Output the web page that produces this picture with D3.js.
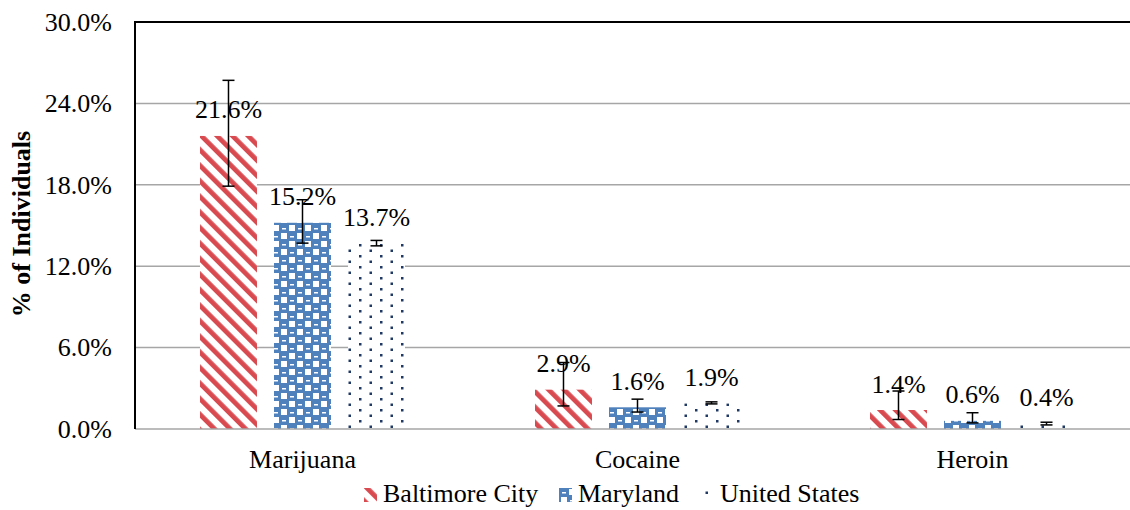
<!DOCTYPE html>
<html><head><meta charset="utf-8">
<script src="https://cdn.jsdelivr.net/npm/d3@7"></script>
<style>
html,body{margin:0;padding:0;background:#fff;}
svg{display:block;font-family:"Liberation Serif","Times New Roman",serif;}
</style></head>
<body>
<svg id="chart" width="1130" height="510"></svg>
<script>
const categories = ["Marijuana", "Cocaine", "Heroin"];
const seriesNames = ["Baltimore City", "Maryland", "United States"];
const baltimore = [21.6, 2.9, 1.4];
const maryland = [15.2, 1.6, 0.6];
const unitedStates = [13.7, 1.9, 0.4];
const baltimoreLow = [17.9, 1.7, 0.7];
const baltimoreHigh = [25.7, 4.9, 2.8];
const marylandLow = [13.7, 1.25, 0.45];
const marylandHigh = [16.9, 2.2, 1.2];
const unitedStatesLow = [13.5, 1.85, 0.3];
const unitedStatesHigh = [13.9, 2.0, 0.5];
const yTicks = [0, 6, 12, 18, 24, 30];

const seriesValues = [baltimore, maryland, unitedStates];
const seriesLow = [baltimoreLow, marylandLow, unitedStatesLow];
const seriesHigh = [baltimoreHigh, marylandHigh, unitedStatesHigh];
const patternIds = ["pBalt", "pMd", "pUs"];

const svg = d3.select("#chart");
const mLeft = 135, mTop = 22, mBottom = 429, mRight = 1140;

const y = d3.scaleLinear().domain([0, 30]).range([mBottom, mTop]);
const x = d3.scaleBand().domain(categories).range([mLeft, mRight]).padding(0);
const xs = d3.scaleBand().domain(seriesNames).range([-102.5, 102.5]).paddingInner(0.23).paddingOuter(0);

// patterns
const defs = svg.append("defs");
const p1 = defs.append("pattern").attr("id", "pBalt").attr("patternUnits", "userSpaceOnUse")
  .attr("width", 11).attr("height", 11).attr("patternTransform", "rotate(-45)");
p1.append("rect").attr("width", 11).attr("height", 11).attr("fill", "#fff");
p1.append("rect").attr("x", 0).attr("width", 4.8).attr("height", 11).attr("fill", "#D84A50");

const p2 = defs.append("pattern").attr("id", "pMd").attr("patternUnits", "userSpaceOnUse")
  .attr("width", 16).attr("height", 16);
p2.append("rect").attr("width", 16).attr("height", 16).attr("fill", "#4F81BD");
p2.append("rect").attr("x", 1).attr("y", 1).attr("width", 6).attr("height", 6).attr("fill", "#fff");
p2.append("rect").attr("x", 9).attr("y", 9).attr("width", 6).attr("height", 6).attr("fill", "#fff");
p2.append("rect").attr("x", 10).attr("y", 4).attr("width", 4).attr("height", 1.5).attr("fill", "#fff");
p2.append("rect").attr("x", 2).attr("y", 12).attr("width", 4).attr("height", 1.5).attr("fill", "#fff");

const p3 = defs.append("pattern").attr("id", "pUs").attr("patternUnits", "userSpaceOnUse")
  .attr("width", 21).attr("height", 11);
p3.append("rect").attr("width", 21).attr("height", 11).attr("fill", "#fff");
p3.append("rect").attr("x", 2).attr("y", 2).attr("width", 2.5).attr("height", 2.5).attr("fill", "#1F3864");
p3.append("rect").attr("x", 12.5).attr("y", 7.5).attr("width", 2.5).attr("height", 2.5).attr("fill", "#1F3864");

// gridlines
svg.append("g").selectAll("line").data(yTicks.filter(d => d > 0 && d < 30)).join("line")
  .attr("x1", mLeft).attr("x2", mRight).attr("y1", d => y(d)).attr("y2", d => y(d))
  .attr("stroke", "#a6a6a6").attr("stroke-width", 1.5);

// bars
seriesNames.forEach((s, si) => {
  const g = svg.append("g");
  g.selectAll("rect").data(categories).join("rect")
    .attr("x", c => x(c) + x.bandwidth() / 2 + xs(s))
    .attr("y", (c, i) => y(seriesValues[si][i]))
    .attr("width", xs.bandwidth())
    .attr("height", (c, i) => y(0) - y(seriesValues[si][i]))
    .attr("fill", `url(#${patternIds[si]})`);
});

// axis baseline
svg.append("line").attr("x1", mLeft).attr("x2", mRight).attr("y1", y(0)).attr("y2", y(0))
  .attr("stroke", "#a6a6a6").attr("stroke-width", 1.5);

// frame top and left
svg.append("line").attr("x1", mLeft).attr("x2", mRight).attr("y1", y(30)).attr("y2", y(30))
  .attr("stroke", "#000").attr("stroke-width", 2);
svg.append("line").attr("x1", mLeft).attr("x2", mLeft).attr("y1", y(30) - 1).attr("y2", y(0))
  .attr("stroke", "#000").attr("stroke-width", 2);

// error bars
seriesNames.forEach((s, si) => {
  const g = svg.append("g").attr("stroke", "#000").attr("stroke-width", 1.5);
  categories.forEach((c, i) => {
    const cx = x(c) + x.bandwidth() / 2 + xs(s) + xs.bandwidth() / 2;
    const lo = y(seriesLow[si][i]), hi = y(seriesHigh[si][i]);
    g.append("line").attr("x1", cx).attr("x2", cx).attr("y1", lo).attr("y2", hi);
    g.append("line").attr("x1", cx - 6).attr("x2", cx + 6).attr("y1", lo).attr("y2", lo);
    g.append("line").attr("x1", cx - 6).attr("x2", cx + 6).attr("y1", hi).attr("y2", hi);
  });
});

// value labels
seriesNames.forEach((s, si) => {
  svg.append("g").selectAll("text").data(categories).join("text")
    .attr("x", c => x(c) + x.bandwidth() / 2 + xs(s) + xs.bandwidth() / 2)
    .attr("y", (c, i) => y(seriesValues[si][i]) - 17.5)
    .attr("text-anchor", "middle").attr("font-size", 26).attr("fill", "#000")
    .text((c, i) => seriesValues[si][i].toFixed(1) + "%");
});

// y tick labels
svg.append("g").selectAll("text").data(yTicks).join("text")
  .attr("x", 112).attr("y", d => y(d)).attr("dy", "0.34em")
  .attr("text-anchor", "end").attr("font-size", 26).attr("fill", "#000")
  .text(d => d.toFixed(1) + "%");

// category labels
svg.append("g").selectAll("text").data(categories).join("text")
  .attr("x", c => x(c) + x.bandwidth() / 2).attr("y", 468)
  .attr("text-anchor", "middle").attr("font-size", 26).attr("fill", "#000")
  .text(c => c);

// y title
svg.append("text").attr("transform", "translate(30,224) rotate(-90)")
  .attr("text-anchor", "middle").attr("font-size", 26).attr("font-weight", "bold")
  .text("% of Individuals");

// legend
const legendX = [364, 559, 704];
const legendIconW = [13, 13, 6];
const lg = svg.append("g");
seriesNames.forEach((s, si) => {
  lg.append("rect").attr("x", legendX[si]).attr("y", 488).attr("width", legendIconW[si]).attr("height", 14)
    .attr("fill", `url(#${patternIds[si]})`);
  lg.append("text").attr("x", legendX[si] + (si === 2 ? 16 : 19)).attr("y", 502)
    .attr("font-size", 26).attr("fill", "#000").text(s);
});
</script>
</body></html>
